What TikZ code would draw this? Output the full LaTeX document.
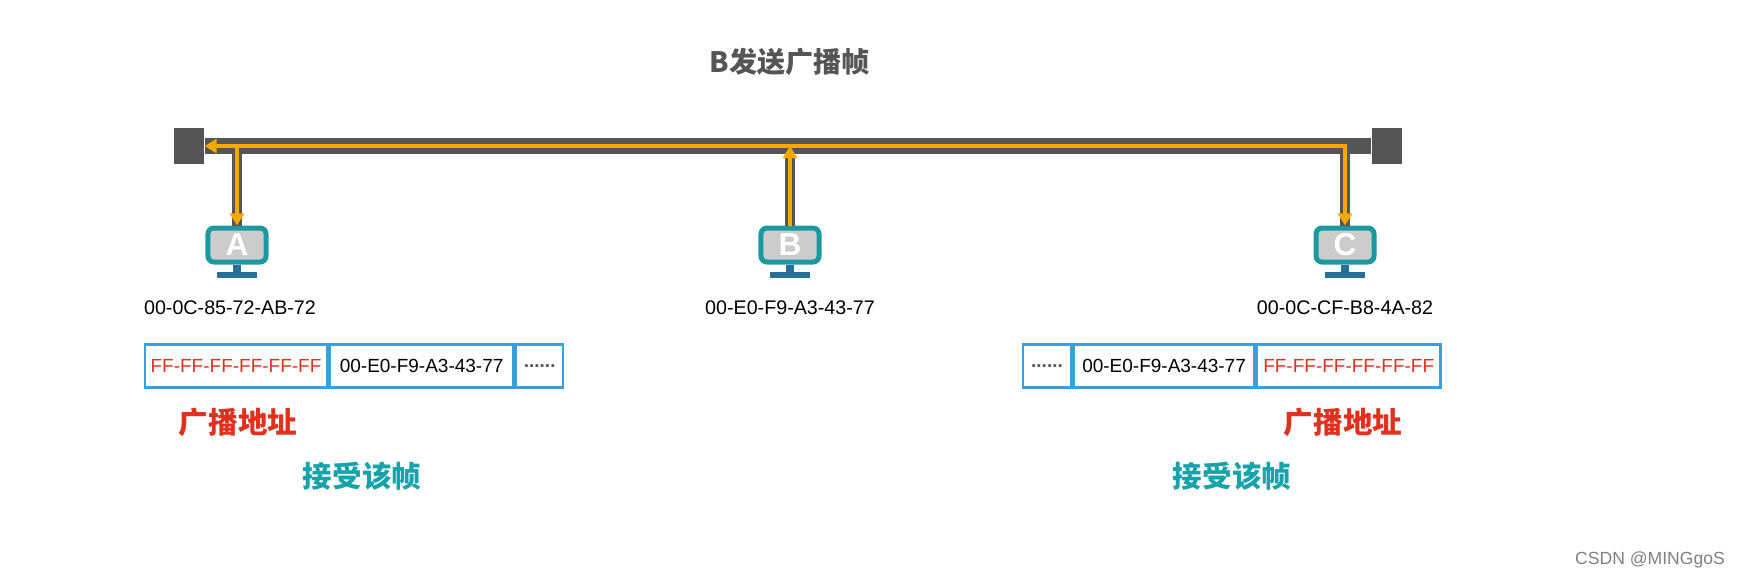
\documentclass[tikz,border=0pt]{standalone}
\usepackage{fontspec}
\setmainfont{Liberation Sans}
\newfontfamily\cjk{Noto Sans CJK SC}
\usetikzlibrary{arrows.meta,positioning}
\definecolor{busColor}{HTML}{555555}
\definecolor{sigColor}{HTML}{F5A800}
\definecolor{pcColor}{HTML}{1A9AA0}
\definecolor{boxColor}{HTML}{3AA0D8}
\definecolor{addrColor}{HTML}{E0301E}
\definecolor{recvColor}{HTML}{17A3AC}
\tikzset{
	bus/.style={draw=busColor,line width=0.16cm},
	drop/.style={draw=busColor,line width=0.1cm},
	sig/.style={draw=sigColor,line width=0.04cm,-{Triangle[length=0.12cm,width=0.14cm]}},
	endcap/.style={fill=busColor,minimum width=0.3cm,minimum height=0.36cm,inner sep=0},
	pc/.style={draw=pcColor,line width=0.05cm,fill=gray!40,rounded corners=0.06cm,minimum width=0.58cm,minimum height=0.34cm,inner sep=0,text=white,font=\bfseries\fontsize{9}{9}\selectfont},
	mac/.style={font=\fontsize{5.6}{7}\selectfont},
	cell/.style={draw=boxColor,line width=0.025cm,minimum height=0.43cm,inner sep=0,font=\fontsize{5.4}{7}\selectfont},
	addr/.style={text=addrColor,font=\cjk\bfseries\fontsize{8.4}{9}\selectfont},
	recv/.style={text=recvColor,font=\cjk\bfseries\fontsize{8.4}{9}\selectfont}
}
\begin{document}
\begin{tikzpicture}[x=0.01cm,y=-0.01cm]
	\useasboundingbox (0,0) rectangle (1746,587);
	\node[font=\cjk\bfseries\fontsize{8}{8}\selectfont,text=busColor] (title) at (790,62) {B发送广播帧};
	% bus with terminators
	\node[endcap] (tl) at (189,146) {};
	\node[endcap] (tr) at (1387,146) {};
	\draw[bus] (tl.east) -- (tr.west);
	% hosts
	\node[pc] (pcA) at (237,245) {A};
	\node[pc] (pcB) at (790,245) {B};
	\node[pc] (pcC) at (1345,245) {C};
	\foreach \h in {pcA,pcB,pcC}{
		\fill[boxColor!70!black] ([xshift=-0.04cm]\h.south) rectangle ([xshift=0.04cm,yshift=-0.07cm]\h.south);
		\fill[boxColor!70!black] ([xshift=-0.2cm,yshift=-0.07cm]\h.south) rectangle ([xshift=0.2cm,yshift=-0.13cm]\h.south);
	}
	\coordinate (jA) at (237,146);
	\coordinate (jB) at (790,146);
	\coordinate (jC) at (1345,146);
	\draw[drop] (jA) -- (pcA.north);
	\draw[drop] (jB) -- (pcB.north);
	\draw[drop] (jC) -- (pcC.north);
	% signal
	\draw[sig] (pcB.north) -- (jB);
	\draw[sig] (jC) -- (tl.east);
	\draw[sig] (jA) -- (pcA.north);
	\draw[sig] ([yshift=0.02cm]jC) -- (pcC.north);
	% addresses
	\node[mac] (macA) at (230,308) {00-0C-85-72-AB-72};
	\node[mac] (macB) at (790,308) {00-E0-F9-A3-43-77};
	\node[mac] (macC) at (1345,308) {00-0C-CF-B8-4A-82};
	% frames
	\node[cell,minimum width=1.82cm,text=addrColor] (fA1) at (236,366) {FF-FF-FF-FF-FF-FF};
	\node[cell,minimum width=1.84cm,right=0pt of fA1] (fA2) {00-E0-F9-A3-43-77};
	\node[cell,minimum width=0.47cm,right=0pt of fA2,text=busColor] (fA3) {\textbf{......}};
	\node[cell,minimum width=0.48cm,text=busColor] (fC1) at (1047,366) {\textbf{......}};
	\node[cell,minimum width=1.81cm,right=0pt of fC1] (fC2) {00-E0-F9-A3-43-77};
	\node[cell,minimum width=1.83cm,right=0pt of fC2,text=addrColor] (fC3) {FF-FF-FF-FF-FF-FF};
	\node[addr] (adA) at (238,422) {广播地址};
	\node[addr] (adC) at (1343,422) {广播地址};
	\node[recv] (rcA) at (362,476) {接受该帧};
	\node[recv] (rcC) at (1232,476) {接受该帧};
	\node[text=gray,font=\fontsize{5}{6}\selectfont] (mark) at (1650,560) {CSDN @MINGgoS};
\end{tikzpicture}
\end{document}
